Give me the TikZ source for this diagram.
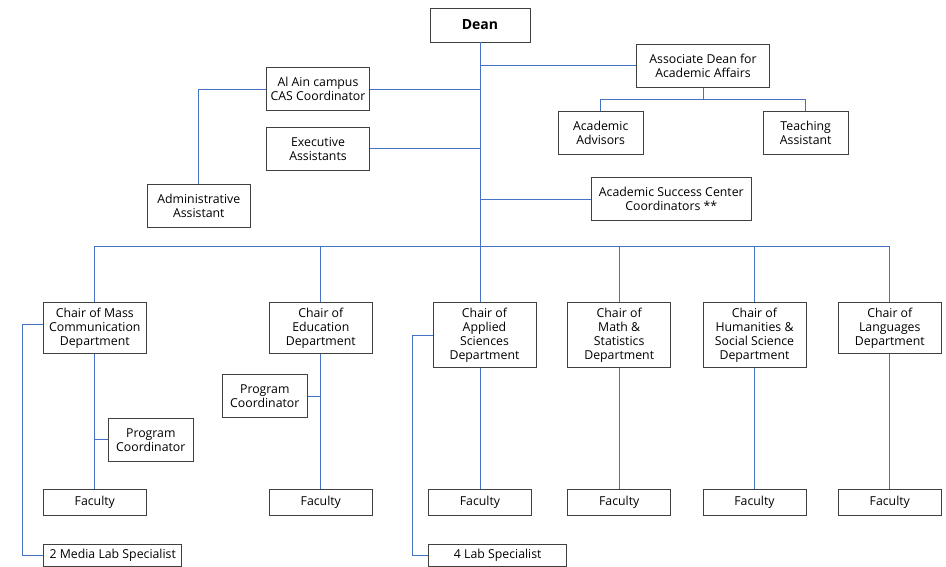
\documentclass[tikz,border=0pt]{standalone}
\usepackage{fontspec}
\setmainfont{Open Sans}
\usetikzlibrary{calc}
\definecolor{myblue}{RGB}{68,114,196}
\definecolor{mygray}{RGB}{64,64,64}
\tikzstyle{box} = [draw=mygray, line width=0.9, fill=white, inner sep=2,
    minimum width=103, minimum height=43, align=center,
    font=\fontsize{12.3}{14}\selectfont]
\tikzstyle{chair} = [box, minimum height=51]
\tikzstyle{small} = [box, minimum width=85]
\tikzstyle{fac} = [box, minimum height=26]
\tikzstyle{link} = [draw=myblue, line width=0.9]

\begin{document}
\begin{tikzpicture}[x=1pt, y=-1pt]
\useasboundingbox (0,0) rectangle (946,567);

    % 1. Place the Dean and the office
    \node[box, minimum width=100, minimum height=34, font=\fontsize{14}{14}\selectfont\bfseries] (dean) at (480,25) {Dean};
    \node[box, minimum width=133] (assoc) at (703,65.7) {Associate Dean for\\ Academic Affairs};
    \node[small] (adv) at (600.7,133) {Academic\\ Advisors};
    \node[small] (ta) at (805.7,133) {Teaching\\ Assistant};
    \node[box, minimum width=160] (asc) at (671.3,199.2) {Academic Success Center\\ Coordinators **};
    \node[box] (alain) at (318,89) {Al Ain campus\\ CAS Coordinator};
    \node[box] (exec) at (318,148.8) {Executive\\ Assistants};
    \node[box] (admin) at (198.8,205.8) {Administrative\\ Assistant};
    \coordinate (bus) at (480,246);

\draw[link] (dean.south) -- (bus);
\draw[link] (assoc.west) -- (assoc.west -| dean.south);
\draw[link] (assoc.south) -- ++(0,12) -| (adv.north);
\draw[link] (assoc.south) -- ++(0,12) -| (ta.north);
\draw[link] (asc.west) -- (asc.west -| dean.south);
\draw[link] (alain.east) -- (alain.east -| dean.south);
\draw[link] (alain.west) -| (admin.north);
\draw[link] (exec.east) -- (exec.east -| dean.south);

%%% CHAIRS
\node[chair] (mc) at (94.8,327.8) {Chair of Mass\\ Communication\\ Department};
\node[chair] (edu) at (320.8,327.8) {Chair of\\ Education\\ Department};
\node[chair, minimum height=65.4] (app) at (484.5,335) {Chair of\\ Applied\\ Sciences\\ Department};
\node[chair, minimum height=65.4] (math) at (619.2,335) {Chair of\\ Math \&\\ Statistics\\ Department};
\node[chair, minimum height=65.4] (hum) at (754.5,335) {Chair of\\ Humanities \&\\ Social Science\\ Department};
\node[chair] (lang) at (889.8,327.8) {Chair of\\ Languages\\ Department};

\draw[link] (mc.north) -- (mc.north |- bus) -- (lang.north |- bus) -- (lang.north);
\draw[link] (edu.north) -- (edu.north |- bus);
\draw[link] (bus) -- (bus |- app.north);
\draw[link] (math.north) -- (math.north |- bus);
\draw[link] (hum.north) -- (hum.north |- bus);

%%% FACULTY
\node[fac] (mcfac) at (94.8,502.3) {Faculty};
\node[fac] (edufac) at (320.8,502.3) {Faculty};
\node[fac] (appfac) at (480,502.3) {Faculty};
\node[fac] (mathfac) at (619.2,502.3) {Faculty};
\node[fac] (humfac) at (754.5,502.3) {Faculty};
\node[fac] (langfac) at (889.8,502.3) {Faculty};

\draw[link] (mc.south) -- (mcfac.north);
\draw[link] (edu.south) -- (edufac.north);
\draw[link] (appfac.north |- app.south) -- (appfac.north);
\draw[link] (math.south) -- (mathfac.north);
\draw[link] (hum.south) -- (humfac.north);
\draw[link] (lang.south) -- (langfac.north);

% program coordinators and lab staff
\node[small] (mcpc) at (150.8,439.7) {Program\\ Coordinator};
\node[small] (edupc) at (264.8,396) {Program\\ Coordinator};
\draw[link] (mcpc.west) -- (mcpc.west -| mc.south);
\draw[link] (edupc.east) -- (edupc.east -| edu.south);

\node[fac, minimum width=138, minimum height=22.5, anchor=north west] (mclab) at (43.3,543.7) {2 Media Lab Specialist};
\node[fac, minimum width=138, minimum height=22.5, anchor=north west] (applab) at (428.3,543.7) {4 Lab Specialist};
\draw[link] ($(mc.west)+(0,-3.8)$) -- ++(-20.6,0) |- (mclab.west);
\draw[link] (app.west) -- ++(-20,0) |- (applab.west);

\end{tikzpicture}
\end{document}
